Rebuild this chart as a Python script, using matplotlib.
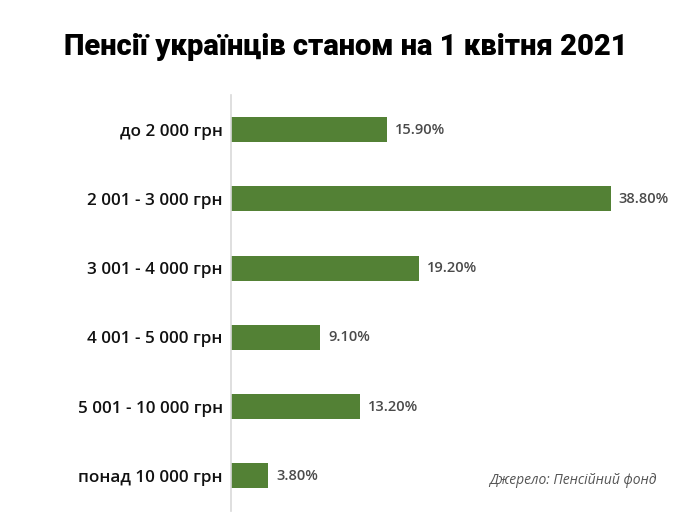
import matplotlib
matplotlib.use("Agg")
import matplotlib.pyplot as plt

categories = ["до 2 000 грн", "2 001 - 3 000 грн", "3 001 - 4 000 грн",
              "4 001 - 5 000 грн", "5 001 - 10 000 грн", "понад 10 000 грн"]
values = [15.9, 38.8, 19.2, 9.1, 13.2, 3.8]
value_labels = ["15.90%", "38.80%", "19.20%", "9.10%", "13.20%", "3.80%"]

BAR = "#538135"

fig = plt.figure(figsize=(6.9, 5.23), dpi=100)
ax = fig.add_axes([231 / 690, 12.4 / 523, 439 / 690, 415.6 / 523])

y = list(range(len(categories)))
ax.barh(y, values, height=0.36, color=BAR)
ax.set_ylim(5.5, -0.5)
ax.set_xlim(0, 439 / 9.794)

for yi, v, lab in zip(y, values, value_labels):
    ax.text(v + 0.8, yi, lab, va="center", ha="left", fontsize=10.5,
            fontweight="semibold", color="#4a4a4a", family="Open Sans")

ax.set_yticks(y)
ax.set_yticklabels(categories, fontsize=12.3, fontweight="semibold",
                   family="Open Sans", color="#111111")
ax.tick_params(axis="y", length=0, pad=6)
ax.set_xticks([])
for s in ["top", "right", "bottom"]:
    ax.spines[s].set_visible(False)
ax.spines["left"].set_color("#d9d9d9")
ax.spines["left"].set_linewidth(1.2)

fig.text(346 / 690, 1 - 47 / 523, "Пенсії українців станом на 1 квітня 2021",
         ha="center", va="center", fontsize=21, fontweight="heavy",
         family="Roboto", color="#000000")
fig.text(657 / 690, 1 - 480 / 523, "Джерело: Пенсійний фонд", ha="right",
         va="center", fontsize=10, style="italic", family="Open Sans",
         color="#555555")

fig.savefig("out.png", dpi=100)
